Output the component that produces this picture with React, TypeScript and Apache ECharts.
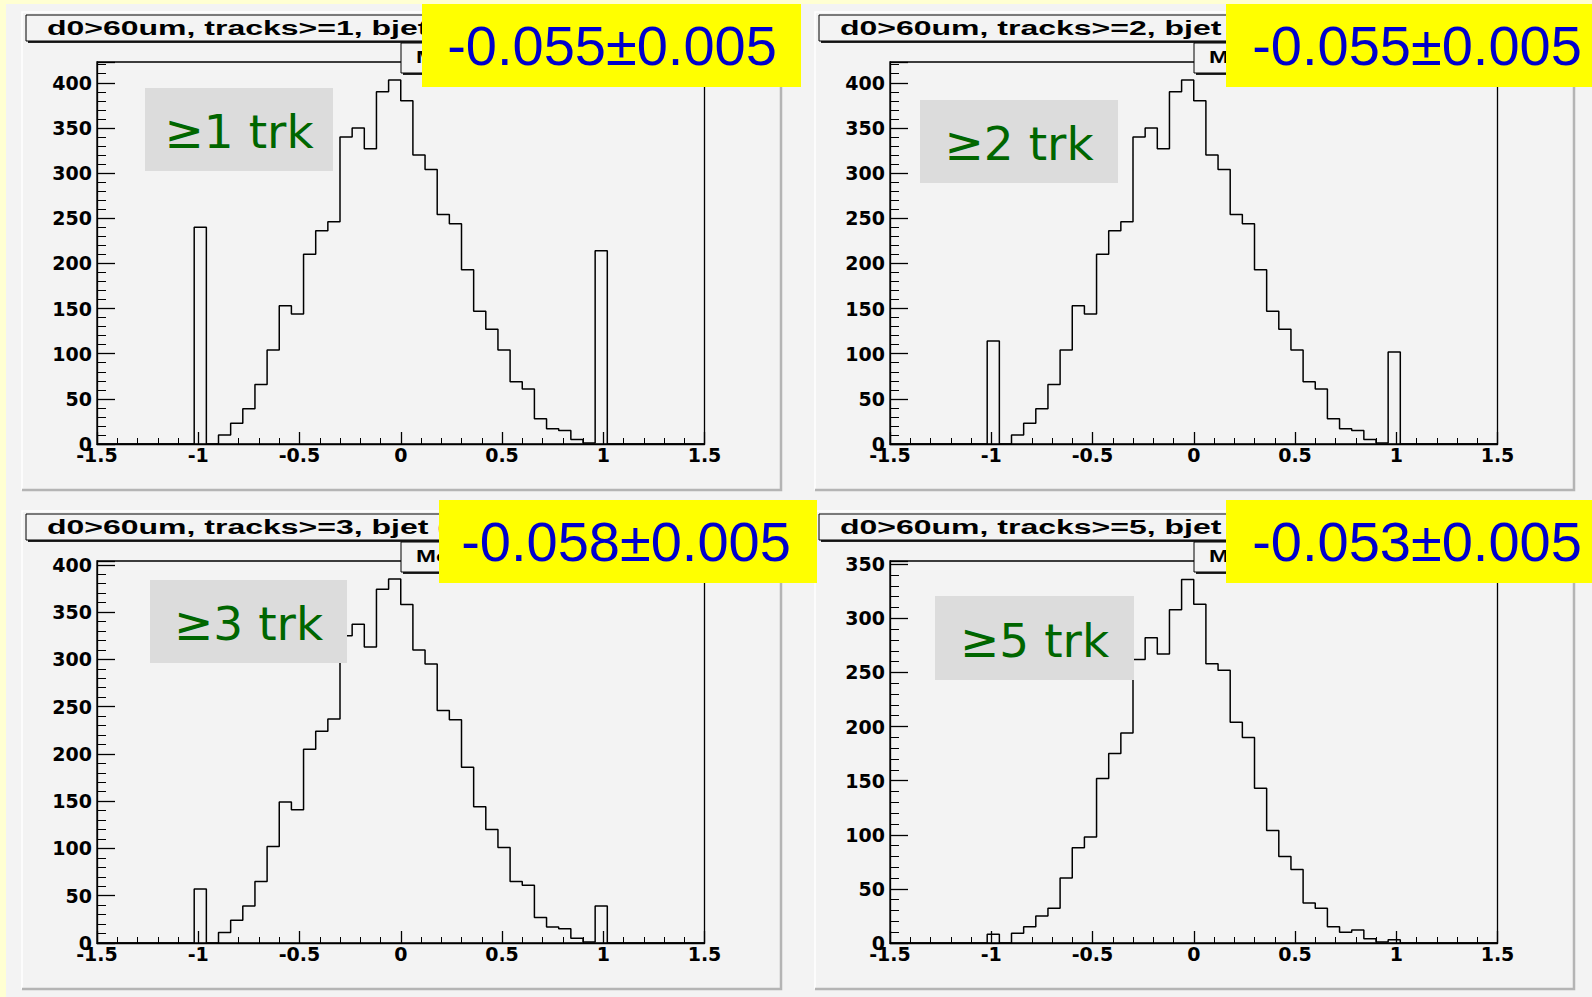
import React, { useEffect, useRef } from "react";
import * as echarts from "echarts";

// ---- data ----
const binEdges = [
  -1.5, -1.44, -1.38, -1.32, -1.26, -1.2, -1.14, -1.08, -1.02, -0.96, -0.9, -0.84, -0.78,
  -0.72, -0.66, -0.6, -0.54, -0.48, -0.42, -0.36, -0.3, -0.24, -0.18, -0.12, -0.06, 0,
  0.06, 0.12, 0.18, 0.24, 0.3, 0.36, 0.42, 0.48, 0.54, 0.6, 0.66, 0.72, 0.78, 0.84, 0.9,
  0.96, 1.02, 1.08, 1.14, 1.2, 1.26, 1.32, 1.38, 1.44, 1.5,
];

const countsTrk1 = [
  0, 0, 0, 0, 0, 0, 0, 0, 240, 0, 10, 23, 39, 66, 104, 153, 144, 210, 236, 246, 340, 350,
  327, 390, 403, 380, 320, 304, 254, 244, 193, 147, 127, 104, 69, 61, 28, 17, 15, 5, 1, 214,
  0, 0, 0, 0, 0, 0, 0, 0,
];
const countsTrk2 = [
  0, 0, 0, 0, 0, 0, 0, 0, 114, 0, 10, 23, 39, 66, 104, 153, 144, 210, 236, 246, 340, 350,
  327, 390, 403, 380, 320, 304, 254, 244, 193, 147, 127, 104, 69, 61, 28, 17, 15, 5, 1, 102,
  0, 0, 0, 0, 0, 0, 0, 0,
];
const countsTrk3 = [
  0, 0, 0, 0, 0, 0, 0, 0, 57, 0, 11, 24, 39, 65, 102, 149, 141, 205, 224, 237, 325, 337,
  313, 374, 385, 358, 310, 295, 246, 236, 186, 144, 120, 101, 65, 61, 27, 17, 15, 5, 1, 39,
  0, 0, 0, 0, 0, 0, 0, 0,
];
const countsTrk5 = [
  0, 0, 0, 0, 0, 0, 0, 0, 8, 0, 9, 15, 25, 32, 60, 88, 98, 152, 175, 194, 262, 282,
  267, 308, 336, 313, 258, 252, 204, 190, 143, 104, 80, 68, 37, 32, 15, 10, 12, 4, 1, 3,
  0, 0, 0, 0, 0, 0, 0, 0,
];

const panelCounts = [countsTrk1, countsTrk2, countsTrk3, countsTrk5];
const panelTitles = [
  "d0>60um, tracks>=1, bjet",
  "d0>60um, tracks>=2, bjet",
  "d0>60um, tracks>=3, bjet (",
  "d0>60um, tracks>=5, bjet",
];
const panelTags = ["≥1 trk", "≥2 trk", "≥3 trk", "≥5 trk"];
const panelMeans = ["-0.055±0.005", "-0.055±0.005", "-0.058±0.005", "-0.053±0.005"];
const yMaxes = [423, 423, 404, 353];

// ---- layout (pixels) ----
const W = 1592;
const H = 997;
const pads = [
  { x: 22, y: 12 },
  { x: 815, y: 12 },
  { x: 22, y: 511 },
  { x: 815, y: 511 },
];
const PAD_W = 759;
const PAD_H = 478;
const PLOT = { dx: 75, dy: 50, w: 607.5, h: 382 };
const tagBoxes = [
  { x: 145, y: 88, w: 188, h: 83 },
  { x: 920, y: 100, w: 198, h: 83 },
  { x: 150, y: 580, w: 197, h: 83 },
  { x: 935, y: 596, w: 199, h: 84 },
];
const yellowBoxes = [
  { x: 422, y: 4, w: 379, h: 83, tx: 612 },
  { x: 1226, y: 4, w: 366, h: 83, tx: 1417 },
  { x: 439, y: 500, w: 378, h: 83, tx: 626 },
  { x: 1226, y: 500, w: 366, h: 83, tx: 1417 },
];

const PAD_FILL = "#f3f3f3";
const TICK_FONT = "DejaVu Sans";
const TICK_SIZE = 19;

function buildOption() {
  const grids: any[] = [];
  const xAxes: any[] = [];
  const yAxes: any[] = [];
  const series: any[] = [];
  const elements: any[] = [];

  elements.push({
    type: "rect",
    z: -20,
    silent: true,
    shape: { x: 6, y: 4, width: W - 6, height: H - 4 },
    style: { fill: PAD_FILL },
  });

  pads.forEach((p, i) => {
    grids.push({
      left: p.x + PLOT.dx,
      top: p.y + PLOT.dy,
      width: PLOT.w,
      height: PLOT.h,
      show: true,
      borderColor: "#000",
      borderWidth: 1.3,
      backgroundColor: "transparent",
      containLabel: false,
      outerBoundsMode: "none",
    });
    xAxes.push({
      gridIndex: i,
      type: "value",
      min: -1.5,
      max: 1.5,
      interval: 0.5,
      axisLine: { show: true, onZero: false, lineStyle: { color: "#000", width: 1.3 } },
      axisTick: { show: true, inside: true, length: 12, lineStyle: { color: "#000", width: 1.3 } },
      minorTick: { show: true, splitNumber: 5, length: 6, lineStyle: { color: "#000", width: 1 } },
      splitLine: { show: false },
      axisLabel: {
        color: "#000",
        fontFamily: TICK_FONT,
        fontWeight: "bold",
        fontSize: TICK_SIZE,
        margin: 1,
        showMinLabel: true,
        showMaxLabel: true,
      },
    });
    yAxes.push({
      gridIndex: i,
      type: "value",
      min: 0,
      max: yMaxes[i],
      interval: 50,
      axisLine: { show: true, onZero: false, lineStyle: { color: "#000", width: 1.3 } },
      axisTick: { show: true, inside: true, length: 18, lineStyle: { color: "#000", width: 1.3 } },
      minorTick: { show: true, splitNumber: 5, length: 9, lineStyle: { color: "#000", width: 1 } },
      splitLine: { show: false },
      axisLabel: {
        color: "#000",
        fontFamily: TICK_FONT,
        fontWeight: "bold",
        fontSize: TICK_SIZE,
        margin: 5,
        showMinLabel: true,
        formatter: (v: number) => (v % 50 === 0 ? String(v) : ""),
      },
    });
    const counts = panelCounts[i];
    series.push({
      type: "line",
      xAxisIndex: i,
      yAxisIndex: i,
      step: "end",
      symbol: "none",
      silent: true,
      z: 5,
      lineStyle: { color: "#000", width: 1.5 },
      data: binEdges.map((e, k) => [e, counts[Math.min(k, counts.length - 1)]]),
    });

    // pad background + bevel
    elements.push({
      type: "rect",
      z: -15,
      silent: true,
      shape: { x: p.x, y: p.y, width: PAD_W, height: PAD_H },
      style: { fill: PAD_FILL },
    });
    elements.push({
      type: "polyline",
      z: -14,
      silent: true,
      shape: { points: [[p.x, p.y + PAD_H], [p.x, p.y], [p.x + PAD_W, p.y]] },
      style: { stroke: "#ffffff", lineWidth: 1.5, fill: "none" },
    });
    elements.push({
      type: "polyline",
      z: -14,
      silent: true,
      shape: { points: [[p.x, p.y + PAD_H], [p.x + PAD_W, p.y + PAD_H], [p.x + PAD_W, p.y]] },
      style: { stroke: "#b4b4b4", lineWidth: 2.5, fill: "none" },
    });

    // title pave
    elements.push({
      type: "rect",
      z: 20,
      silent: true,
      shape: { x: p.x + 6, y: p.y + 5, width: 560, height: 26 },
      style: { fill: "#222" },
    });
    elements.push({
      type: "rect",
      z: 21,
      silent: true,
      shape: { x: p.x + 4, y: p.y + 3, width: 560, height: 26 },
      style: { fill: PAD_FILL, stroke: "#000", lineWidth: 1 },
    });
    elements.push({
      type: "text",
      z: 22,
      silent: true,
      x: p.x + 25,
      y: p.y + 16,
      scaleX: 1.6,
      style: {
        text: panelTitles[i],
        font: 'bold 20px "Liberation Sans"',
        fill: "#000",
        textAlign: "left",
        textVerticalAlign: "middle",
      },
    });

    // stats pave
    elements.push({
      type: "rect",
      z: 20,
      silent: true,
      shape: { x: p.x + 381, y: p.y + 33, width: 366, height: 30 },
      style: { fill: "#222" },
    });
    elements.push({
      type: "rect",
      z: 21,
      silent: true,
      shape: { x: p.x + 379, y: p.y + 31, width: 366, height: 30 },
      style: { fill: PAD_FILL, stroke: "#000", lineWidth: 1 },
    });
    elements.push({
      type: "text",
      z: 22,
      silent: true,
      x: p.x + 394,
      y: p.y + 46,
      scaleX: 1.5,
      style: {
        text: "Mean",
        font: 'bold 16px "Liberation Sans"',
        fill: "#000",
        textAlign: "left",
        textVerticalAlign: "middle",
      },
    });

    // grey tag box
    const t = tagBoxes[i];
    elements.push({
      type: "rect",
      z: 30,
      silent: true,
      shape: { x: t.x, y: t.y, width: t.w, height: t.h },
      style: { fill: "#dcdcdc" },
    });
    elements.push({
      type: "text",
      z: 31,
      silent: true,
      x: t.x + t.w / 2,
      y: t.y + t.h / 2 + 2,
      style: {
        text: panelTags[i],
        font: '47px "DejaVu Sans"',
        fill: "#006600",
        textAlign: "center",
        textVerticalAlign: "middle",
      },
    });

    // yellow mean box
    const yb = yellowBoxes[i];
    elements.push({
      type: "rect",
      z: 40,
      silent: true,
      shape: { x: yb.x, y: yb.y, width: yb.w, height: yb.h },
      style: { fill: "#ffff00" },
    });
    elements.push({
      type: "text",
      z: 41,
      silent: true,
      x: yb.tx,
      y: yb.y + yb.h / 2,
      style: {
        text: panelMeans[i],
        font: '56px "Liberation Sans"',
        fill: "#0000cc",
        textAlign: "center",
        textVerticalAlign: "middle",
      },
    });
  });

  return {
    animation: false,
    backgroundColor: "#ffffd2",
    grid: grids,
    xAxis: xAxes,
    yAxis: yAxes,
    series,
    graphic: { elements },
  };
}

export default function App() {
  const ref = useRef<HTMLDivElement>(null);
  useEffect(() => {
    document.body.style.margin = "0";
    const chart = echarts.init(ref.current as HTMLDivElement, null, {
      renderer: "svg",
      width: W,
      height: H,
    });
    chart.setOption(buildOption() as any);
    return () => chart.dispose();
  }, []);
  return (
    <div
      ref={ref}
      style={{ position: "absolute", left: 0, top: 0, width: W, height: H }}
    />
  );
}
